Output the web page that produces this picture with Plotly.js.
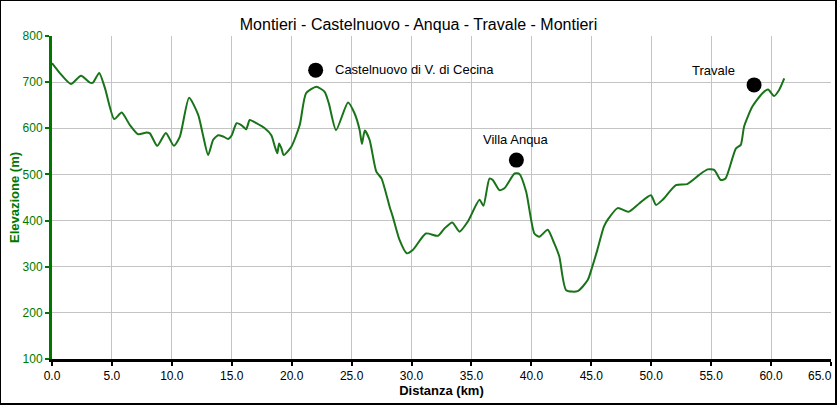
<!DOCTYPE html>
<html>
<head>
<meta charset="utf-8">
<script src="https://cdn.plot.ly/plotly-3.0.1.min.js"></script>
<style>
html,body{margin:0;padding:0;background:#fff;}
#wrap{position:relative;width:837px;height:405px;}
#chart{width:837px;height:405px;}
#frame{position:absolute;left:0;top:0;width:837px;height:405px;box-sizing:border-box;border:1px solid #000;border-right-width:2px;border-bottom-width:2px;pointer-events:none;}
</style>
</head>
<body>
<div id="wrap"><div id="chart"></div><div id="frame"></div></div>
<script>
const distanceKm = [0,0.67,1.58,2.42,3.17,3.42,3.94,4.42,5.19,5.81,6.5,7.19,7.89,8.17,8.78,9.5,10.17,10.67,11.44,12.2,12.6,13.03,13.45,13.86,14.3,14.7,15.0,15.4,15.8,16.2,16.5,17.05,17.75,18.3,18.6,18.8,18.95,19.15,19.33,19.97,20.67,21.2,22.06,22.75,23.1,23.7,24.7,25.25,25.67,25.86,26.1,26.5,27.06,27.5,28.17,28.44,29.0,29.6,30.1,31.2,32.2,32.75,33.4,34.0,34.7,35.67,36.0,36.5,36.78,37.33,37.75,38.6,39.0,39.56,40.25,40.67,41.36,41.9,42.33,42.9,43.86,44.7,45.08,45.5,46.05,46.4,47.2,48.1,49.0,49.97,50.4,50.95,52.06,53.0,54.0,54.7,55.25,55.8,56.2,57.06,57.47,57.75,58.44,59.28,59.75,60.25,60.67,61.1];
const elevationM = [741,719,696,714,699,699,720,687,620,634,607,587,591,589,562,590,562,582,666,629,585,542,575,585,582,577,585,611,607,598,618,611,600,585,560,546,567,556,542,560,607,676,690,679,654,596,656,632,596,566,595,575,506,491,430,408,358,329,336,372,367,383,396,376,398,445,432,491,488,466,470,502,501,463,372,365,380,351,322,249,247,271,300,336,387,403,427,419,437,455,434,445,477,479,499,511,510,488,491,556,564,604,647,676,684,670,683,708];

const placeNames = ["Castelnuovo di V. di Cecina","Villa Anqua","Travale"];
const placeKm = [22.0,38.75,58.58];
const placeElev = [726,531,694];

const xTickVals = [0,5,10,15,20,25,30,35,40,45,50,55,60,65];
const lastTick = xTickVals[xTickVals.length - 1];
const xTickText = xTickVals.map(v => v === lastTick ? "" : v.toFixed(1));

const green = "rgb(0,120,0)";
const font = "Liberation Sans, Arial, sans-serif";

const traces = [
  {x: distanceKm, y: elevationM, type: "scatter", mode: "lines",
   line: {color: "rgb(25,115,25)", width: 2, shape: "spline", smoothing: 0.6},
   hoverinfo: "skip"},
  {x: placeKm, y: placeElev, type: "scatter", mode: "markers",
   marker: {color: "#000", size: 15}, hoverinfo: "skip"}
];

const annotations = [
  {x: placeKm[0], y: placeElev[0], xref: "x", yref: "y", text: placeNames[0], showarrow: false,
   xanchor: "left", yanchor: "middle", xshift: 17, yshift: 1},
  {x: placeKm[1], y: placeElev[1], xref: "x", yref: "y", text: placeNames[1], showarrow: false,
   xanchor: "center", yanchor: "middle", yshift: 21},
  {x: placeKm[2], y: placeElev[2], xref: "x", yref: "y", text: placeNames[2], showarrow: false,
   xanchor: "right", yanchor: "middle", xshift: -17, yshift: 14}
].map(a => Object.assign(a, {font: {family: font, size: 13, color: "#000"}}));

annotations.push({x: lastTick, y: 0, xref: "x", yref: "paper", text: lastTick.toFixed(1),
  showarrow: false, xanchor: "right", yanchor: "middle", xshift: 2, yshift: -17,
  borderpad: 0, font: {family: font, size: 12, color: "#000"}});

const layout = {
  width: 837, height: 405,
  margin: {l: 52, r: 6, t: 36, b: 46},
  paper_bgcolor: "#fff", plot_bgcolor: "#fff",
  showlegend: false,
  title: {text: "Montieri - Castelnuovo - Anqua - Travale - Montieri",
          font: {family: font, size: 16, color: "#000"}, x: 0.5, xanchor: "center", y: 0.94, yanchor: "middle"},
  xaxis: {range: [0, 65], tickvals: xTickVals, ticktext: xTickText,
          showgrid: true, gridcolor: "#c4c4c4", gridwidth: 1,
          showline: true, linecolor: "#000", linewidth: 3,
          ticks: "outside", ticklen: 4, tickcolor: "#000", tickwidth: 2,
          tickfont: {family: font, size: 12, color: "#000"},
          zeroline: false, fixedrange: true,
          title: {text: "<b>Distanza (km)</b>", font: {family: font, size: 13, color: "#000"}, standoff: 3}},
  yaxis: {range: [100, 800], dtick: 100, tick0: 100,
          showgrid: true, gridcolor: "#c4c4c4", gridwidth: 1,
          showline: true, linecolor: green, linewidth: 3,
          ticks: "outside", ticklen: 4, tickcolor: green, tickwidth: 2,
          tickfont: {family: font, size: 12, color: green},
          zeroline: false, fixedrange: true,
          title: {text: "<b>Elevazione (m)</b>", font: {family: font, size: 13, color: green}, standoff: 1}},
  annotations: annotations
};

Plotly.newPlot("chart", traces, layout, {displayModeBar: false, staticPlot: true});
</script>
</body>
</html>
